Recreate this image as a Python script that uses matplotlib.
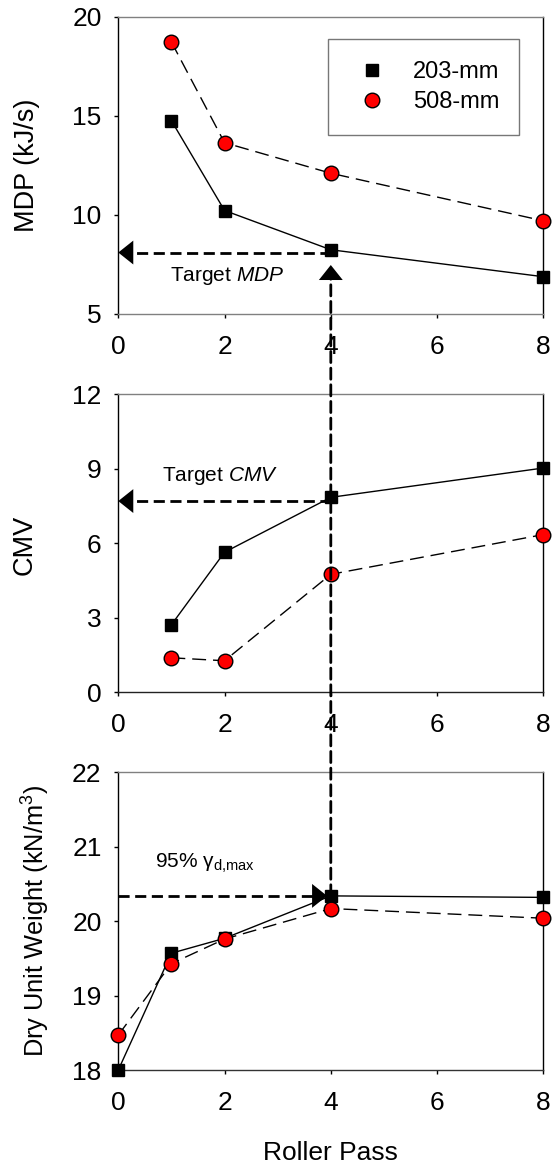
"""Roller pass vs MDP, CMV and dry unit weight (three stacked panels)."""

from __future__ import annotations

import matplotlib

matplotlib.use("Agg")
import matplotlib.pyplot as plt
from matplotlib.lines import Line2D
from matplotlib.patches import ConnectionPatch

plt.rcParams["font.family"] = ["Liberation Sans", "DejaVu Sans"]
plt.rcParams["mathtext.fontset"] = "custom"
plt.rcParams["mathtext.rm"] = "Liberation Sans"
plt.rcParams["mathtext.it"] = "Liberation Sans:italic"

PASSES = [1, 2, 4, 8]
PASSES_WITH_ZERO = [0, 1, 2, 4, 8]
MDP_203 = [14.75, 10.22, 8.24, 6.88]
MDP_508 = [18.72, 13.64, 12.1, 9.7]
CMV_203 = [2.72, 5.64, 7.85, 9.03]
CMV_508 = [1.39, 1.27, 4.75, 6.35]
DRY_203 = [18.0, 19.57, 19.77, 20.34, 20.32]
DRY_508 = [18.47, 19.43, 19.76, 20.17, 20.04]
SERIES_LABELS = ["203-mm", "508-mm"]
X_TICKS = [0, 2, 4, 6, 8]

TARGET_PASS = 4
TARGET_MDP = 8.1
TARGET_CMV = 7.7
TARGET_DRY = 20.34

TICK_SIZE = 19
LABEL_SIZE = 19.5
NOTE_SIZE = 15
DASH = (0, (4, 2))


def main() -> int:
    fig = plt.figure(figsize=(5.53, 11.72), dpi=100)
    left, width = 0.2139, 0.7686
    ax1 = fig.add_axes([left, 0.7321, width, 0.2537])
    ax2 = fig.add_axes([left, 0.4093, width, 0.2543])
    ax3 = fig.add_axes([left, 0.0870, width, 0.2540])

    _plot_pair(ax1, PASSES, MDP_203, MDP_508)
    _plot_pair(ax2, PASSES, CMV_203, CMV_508)
    _plot_pair(ax3, PASSES_WITH_ZERO, DRY_203, DRY_508)

    _style_axes(ax1, (5, 20), [5, 10, 15, 20], "#808080")
    _style_axes(ax2, (0, 12), [0, 3, 6, 9, 12], "#222222")
    _style_axes(ax3, (18, 22), [18, 19, 20, 21, 22], "#333333")

    fig.text(27.5 / 553, 1 - 165 / 1172, "MDP (kJ/s)", rotation=90,
             ha="center", va="center", fontsize=LABEL_SIZE)
    fig.text(25 / 553, 1 - 545 / 1172, "CMV", rotation=90,
             ha="center", va="center", fontsize=LABEL_SIZE)
    fig.text(36 / 553, 1 - 921 / 1172, "Dry Unit Weight (kN/m$^3$)", rotation=90,
             ha="center", va="center", fontsize=18.3)
    fig.text(330.5 / 553, 1 - 1153 / 1172, "Roller Pass",
             ha="center", va="center", fontsize=19)

    # target arrows
    ax1.plot([TARGET_PASS, 0.2], [TARGET_MDP, TARGET_MDP], color="k", lw=2,
             linestyle=DASH, clip_on=False, zorder=4)
    _arrow_head(ax1, (0, TARGET_MDP), (0.7, TARGET_MDP))
    ax1.text(0.98, 6.92, "Target $\\mathit{MDP}$", fontsize=NOTE_SIZE, va="center")

    ax2.plot([TARGET_PASS, 0.2], [TARGET_CMV, TARGET_CMV], color="k", lw=2,
             linestyle=DASH, clip_on=False, zorder=4)
    _arrow_head(ax2, (0, TARGET_CMV), (0.7, TARGET_CMV))
    ax2.text(0.83, 8.7, "Target $\\mathit{CMV}$", fontsize=NOTE_SIZE, va="center")

    ax3.plot([0, 3.75], [TARGET_DRY, TARGET_DRY], color="k", lw=2,
             linestyle=DASH, clip_on=False, zorder=4)
    _arrow_head(ax3, (3.93, TARGET_DRY), (3.2, TARGET_DRY))
    ax3.text(0.7, 20.77, "95% \u03b3$_{\\mathrm{d{,}max}}$", fontsize=NOTE_SIZE, va="center")

    # vertical link from 95% dry unit weight up to the MDP panel
    link = ConnectionPatch(
        xyA=(TARGET_PASS, TARGET_DRY), coordsA=ax3.transData,
        xyB=(TARGET_PASS, 6.9), coordsB=ax1.transData,
        color="k", lw=2, linestyle=DASH, zorder=5,
    )
    fig.add_artist(link)
    _arrow_head(ax1, (TARGET_PASS, 7.47), (TARGET_PASS, 6.0))

    handles = [
        Line2D([], [], linestyle="none", marker="s", ms=8.5, mfc="k", mec="k"),
        Line2D([], [], linestyle="none", marker="o", ms=10.5, mfc="#ff0000", mec="k"),
    ]
    legend = ax1.legend(
        handles, SERIES_LABELS, loc="upper left", bbox_to_anchor=(0.4934, 0.924, 0.4494, 0.0),
        mode="expand", fontsize=17, frameon=True, fancybox=False, borderpad=0.92,
        handlelength=1.9, handletextpad=0.79, labelspacing=0.34, borderaxespad=0,
    )
    legend.get_frame().set_edgecolor("#555555")
    legend.get_frame().set_linewidth(1.0)

    fig.savefig("out.png", dpi=100)
    plt.close(fig)
    return 0


def _plot_pair(ax, x, small, large) -> None:
    ax.plot(x, small, color="k", lw=1, marker="s", ms=8.5, mfc="k", mec="k",
            clip_on=False, zorder=3)
    ax.plot(x, large, color="k", lw=1, linestyle=(0, (10, 5)), marker="o", ms=10.5,
            mfc="#ff0000", mec="k", mew=1, clip_on=False, zorder=3)


def _style_axes(ax, ylim, yticks, bottom_color) -> None:
    ax.set_xlim(0, 8)
    ax.set_ylim(*ylim)
    ax.set_xticks(X_TICKS)
    ax.set_yticks(yticks)
    ax.tick_params(direction="out", length=3, width=1, labelsize=TICK_SIZE)
    ax.tick_params(axis="x", pad=12)
    ax.tick_params(axis="y", pad=9)
    ax.spines["top"].set_color("#808080")
    ax.spines["bottom"].set_color(bottom_color)
    for side in ("left", "right"):
        ax.spines[side].set_color("k")
    for spine in ax.spines.values():
        spine.set_linewidth(1)


def _arrow_head(ax, tip, tail) -> None:
    ax.annotate(
        "", xy=tip, xytext=tail,
        arrowprops=dict(arrowstyle="-|>,head_length=1.08,head_width=0.86",
                        color="k", lw=0, shrinkA=0, shrinkB=0, mutation_scale=10),
        annotation_clip=False, zorder=6,
    )


if __name__ == "__main__":
    raise SystemExit(main())
